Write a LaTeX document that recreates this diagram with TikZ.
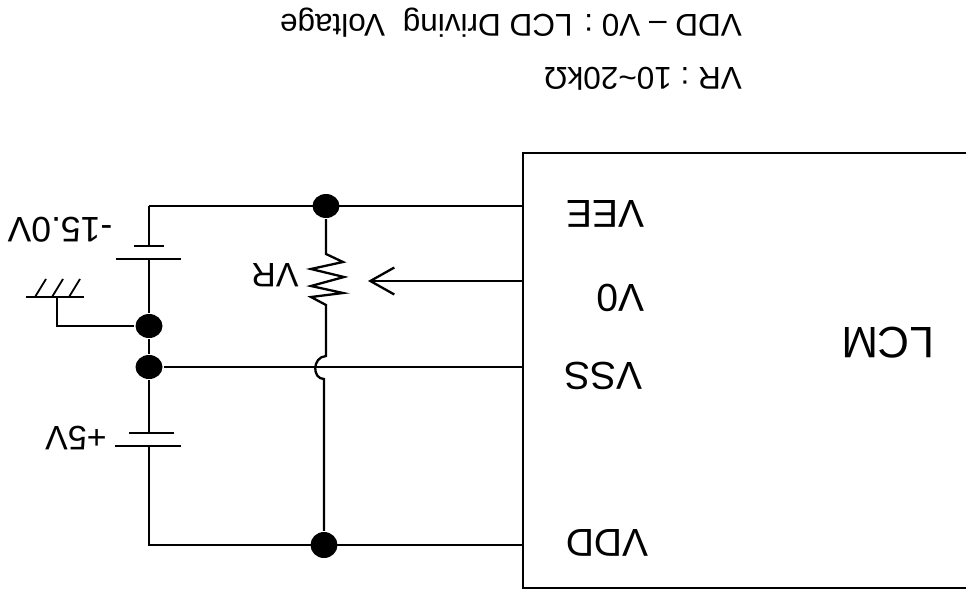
\documentclass[tikz,border=0pt]{standalone}
\usepackage{fontspec}
\setmainfont{Liberation Sans}
\usetikzlibrary{arrows.meta,shapes.geometric}
\tikzset{
  junction/.style={ellipse,fill=black,inner sep=0pt,minimum width=27pt,minimum height=24pt},
  upside/.style={rotate=180,inner sep=0pt},
  wire/.style={line width=2.3pt},
  plate/.style={line width=1.8pt},
  pinlabel/.style={upside,font=\fontsize{39}{39}\selectfont},
  partlabel/.style={upside,font=\fontsize{34}{34}\selectfont},
  notelabel/.style={upside,anchor=base west,font=\fontsize{31.5}{31.5}\selectfont}
}
\begin{document}
\begin{tikzpicture}[x=1pt,y=-1pt,wire]
\useasboundingbox (0,0) rectangle (966,594);
% the nodes once, at their coordinates
\node[junction] (top) at (326,206) {};
\node[junction] (gnd) at (149,326) {};
\node[junction] (mid) at (149,367) {};
\node[junction,minimum height=26pt] (low) at (324,545) {};

\coordinate (corner1) at (149,206);
\coordinate (corner2) at (149,545);
\coordinate (pinvee) at (523,206);
\coordinate (pinvo) at (523,281);
\coordinate (pinvss) at (523,367);
\coordinate (pinvdd) at (523,545);
\coordinate (wiper) at (368,281);
\coordinate (boxtop) at (966,153);
\coordinate (boxcorner) at (523,153);
\coordinate (boxlow) at (523,588);
\coordinate (boxend) at (966,588);

% batteries
\coordinate (b1a) at (149,246);
\coordinate (b1b) at (149,259);
\coordinate (b2a) at (149,433);
\coordinate (b2b) at (149,446);
\draw[plate] (134,246) -- (164,246);
\draw[plate] (116,259) -- (181,259);
\draw[plate] (129,433) -- (174,433);
\draw[plate] (115,446) -- (181,446);

% wires
\draw (corner1) -- (pinvee);
\draw (corner1) -- (b1a);
\draw (b1b) -- (gnd);
\draw (gnd) -- (mid);
\draw (mid) -- (b2a);
\draw (b2b) -- (corner2) -- (pinvdd);
\draw (mid) -- (pinvss);
\draw (boxtop) -- (boxcorner) -- (boxlow) -- (boxend);
\draw[-{Straight Barb[length=24pt,width=27pt]}] (pinvo) -- (wiper);

% VR with the hop over VSS
\draw (top) -- (326,254) -- (343,262) -- (311,269) -- (344,277) -- (311,286) -- (343,293) -- (311,297)
  -- (326,305) -- (326,356) .. controls (312,357) and (312,379) .. (324,379) -- (low);

% ground
\coordinate (g1) at (57,326);
\coordinate (g2) at (57,297);
\draw (gnd) -- (g1) -- (g2);
\draw[plate] (26,297) -- (84,297);
\foreach \gx in {35,52,69}
  \draw[plate] (\gx,297) -- (\gx+11,279);

% texts
\node[upside,font=\fontsize{44}{44}\selectfont] (lcm) at (888,343) {LCM};
\node[pinlabel] (vee) at (605,214) {VEE};
\node[pinlabel] (vo) at (621,298) {V0};
\node[pinlabel] (vss) at (603,376) {VSS};
\node[pinlabel] (vdd) at (607,543) {VDD};
\node[partlabel] (nvr) at (275,275) {VR};
\node[upside,font=\fontsize{35.5}{35.5}\selectfont] (neg) at (60,230) {-15.0V};
\node[partlabel] (pos) at (76,438) {+5V};
\node[notelabel] (note1) at (743,15) {VDD – V0 : LCD Driving\hspace{9pt} Voltage};
\node[notelabel] (note2) at (743,67) {VR : 10\textasciitilde20kΩ};
\end{tikzpicture}
\end{document}
